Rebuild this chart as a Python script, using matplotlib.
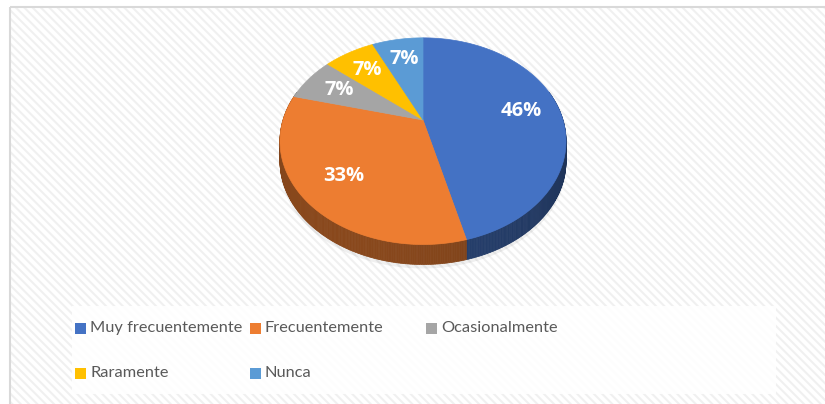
import numpy as np
import matplotlib
matplotlib.use("Agg")
import matplotlib.pyplot as plt
from matplotlib.patches import Rectangle, Polygon
from matplotlib.colors import to_rgb

categories = ["Muy frecuentemente", "Frecuentemente", "Ocasionalmente", "Raramente", "Nunca"]
values = [46, 33, 7, 7, 7]
labels = ["46%", "33%", "7%", "7%", "7%"]
colors = ["#4472C4", "#ED7D31", "#A5A5A5", "#FFC000", "#5B9BD5"]

plt.rcParams['hatch.linewidth'] = 1.5
fig = plt.figure(figsize=(8.25, 4.04), dpi=100)
ax = fig.add_axes([0, 0, 1, 1])
ax.set_xlim(0, 825)
ax.set_ylim(404, 0)
ax.axis("off")

# background
ax.add_patch(Rectangle((0, 0), 825, 404, facecolor="white", edgecolor="none", zorder=0))
ax.add_patch(Rectangle((10, 7), 830, 410, facecolor="white", edgecolor="#F0F0F0",
                       hatch="\\\\\\\\", linewidth=0, zorder=0.5))
ax.add_patch(Rectangle((9.5, 6.5), 830, 410, facecolor="none", edgecolor="#D9D9D9",
                       linewidth=1.5, zorder=1))

# 3D pie projection
cx, cy, R, s, q, H = 423.0, 120.0, 140.0, 0.707, 0.205, 20.0

def proj(a, r=1.0):
    u, w = np.sin(a), np.cos(a)
    den = 1 + q * r * w
    return cx + R * r * u / den, cy - R * s * r * w / den

total = float(sum(values))
bounds = np.concatenate([[0], np.cumsum(values)]) / total * 2 * np.pi

# shadow
aa = np.linspace(0, 2 * np.pi, 200)
sx, sy = proj(aa)
ax.add_patch(Polygon(np.c_[sx, sy + H + 4], closed=True, facecolor="#000000",
                     alpha=0.06, edgecolor="none", zorder=1.5))

# sides
for i, c in enumerate(colors):
    a0, a1 = bounds[i], bounds[i + 1]
    n = max(int((a1 - a0) / 0.01), 2)
    ts = np.linspace(a0, a1, n + 1)
    base = np.array(to_rgb(c))
    for t0, t1 in zip(ts[:-1], ts[1:]):
        tm = 0.5 * (t0 + t1)
        if np.cos(tm) > 0.3:
            continue
        shade = 0.48 + 0.10 * np.cos(tm - np.deg2rad(215))
        col = np.clip(base * shade, 0, 1)
        x0, y0 = proj(t0)
        x1, y1 = proj(t1)
        ax.add_patch(Polygon([[x0, y0], [x1, y1], [x1, y1 + H], [x0, y0 + H]],
                             closed=True, facecolor=col, edgecolor=col,
                             linewidth=0.5, zorder=2))

# tops
for i, c in enumerate(colors):
    a0, a1 = bounds[i], bounds[i + 1]
    ts = np.linspace(a0, a1, 200)
    px, py = proj(ts)
    pts = np.vstack([[cx, cy], np.c_[px, py]])
    ax.add_patch(Polygon(pts, closed=True, facecolor=c, edgecolor=c,
                         linewidth=0.5, zorder=3))

# labels
for i, lab in enumerate(labels):
    am = 0.5 * (bounds[i] + bounds[i + 1])
    lx, ly = proj(am, 0.72)
    ax.text(lx, ly, lab, color="white", fontsize=14.5, fontweight="bold",
            family=["Open Sans", "DejaVu Sans"], ha="center", va="center", zorder=4)

# legend box
ax.add_patch(Rectangle((72, 306), 704, 88, facecolor="white", edgecolor="none",
                       alpha=0.9, zorder=3))
col_x = [75, 250, 426]
row_y = [328, 373]
for i, (cat, c) in enumerate(zip(categories, colors)):
    r, k = divmod(i, 3)
    x, y = col_x[k], row_y[r]
    ax.add_patch(Rectangle((x, y - 5.5), 11, 11, facecolor=c, edgecolor="none", zorder=4))
    ax.text(x + 15, y, cat, color="#595959", fontsize=11.8,
            family=["Lato", "DejaVu Sans"],
            ha="left", va="center", zorder=4)

fig.savefig("out.png", dpi=100)
